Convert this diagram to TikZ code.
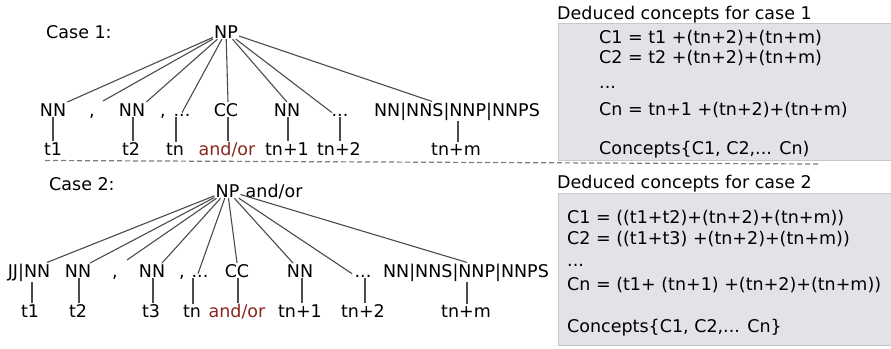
\documentclass[tikz,border=0pt]{standalone}
\usepackage{fontspec}
\setmainfont{DejaVu Sans}
\definecolor{boxfill}{RGB}{225,227,230}
\definecolor{boxline}{RGB}{198,200,203}
\definecolor{andred}{RGB}{135,40,30}
\definecolor{edgecol}{RGB}{75,75,75}
\definecolor{sepcol}{RGB}{125,125,125}
\begin{document}
\begin{tikzpicture}[x=1pt,y=-1pt,
  txt/.style={font=\fontsize{17.5}{21}\selectfont, inner sep=1pt, anchor=base},
  lw/.style={txt, anchor=base west},
  red/.style={txt, text=andred},
  tree/.style={draw=edgecol, line width=1.1pt},
  conbox/.style={fill=boxfill, draw=boxline, line width=1pt},
  sep/.style={draw=sepcol, line width=1.2pt, dash pattern=on 5pt off 3pt}
]
\useasboundingbox (0,0) rectangle (891,348);

% concept boxes
\draw[conbox] (558,23) rectangle (894,160);
\draw[conbox] (558,193) rectangle (894,345);

% separator
\coordinate (sepL) at (45,160.5);
\coordinate (sepR) at (818,164);
\draw[sep] (sepL) -- (sepR);

% ---------- Case 1 ----------
\node[lw] (case1) at (45,38) {Case 1:};
\node[txt] (np1) at (226,38) {NP};

\node[txt] (a1) at (53,116) {NN};
\node[txt] (a2) at (92,116) {,};
\node[txt] (a3) at (132,116) {NN};
\node[txt] (a4) at (163,116) {,};
\node[txt] (a5) at (182,116) {...};
\node[txt] (a6) at (226,116) {CC};
\node[txt] (a7) at (287,116) {NN};
\node[txt] (a8) at (340,116) {...};
\node[txt] (a9) at (457,116) {NN|NNS|NNP|NNPS};

\node[txt] (b1) at (53,155) {t1};
\node[txt] (b2) at (131,155) {t2};
\node[txt] (b3) at (175,155) {tn};
\node[red] (b4) at (227,155) {and/or};
\node[txt] (b5) at (287,155) {tn+1};
\node[txt] (b6) at (339,155) {tn+2};
\node[txt] (b7) at (456,155) {tn+m};

\coordinate (g1) at (103,101);
\draw[tree] (np1) -- (a1.north east);
\draw[tree] (np1) -- (g1);
\draw[tree] (np1) -- (a3.north east);
\draw[tree] (np1) -- (a5.north);
\draw[tree] (np1) -- ([xshift=2pt]a6.north);
\draw[tree] (np1) -- (a7.north);
\draw[tree] (np1) -- ([xshift=-8pt]a8.north);
\draw[tree] (np1) -- ([xshift=-25pt]a9.north);

\draw[tree] (b1.north) -- (b1.north |- a1.south);
\draw[tree] ([xshift=2pt]b2.north) -- ([xshift=2pt]b2.north |- a3.south);
\draw[tree] ([xshift=1pt]b3.north) -- ([xshift=1pt]b3.north |- a5.south);
\draw[tree] ([xshift=1pt]b4.north) -- ([xshift=1pt]b4.north |- a6.south);
\draw[tree] ([xshift=1pt]b5.north) -- ([xshift=1pt]b5.north |- a7.south);
\draw[tree] ([xshift=1pt]b6.north) -- ([xshift=1pt]b6.north |- a8.south);
\draw[tree] ([xshift=2pt]b7.north) -- ([xshift=2pt]b7.north |- a9.south);

% ---------- Case 2 ----------
\node[lw] (case2) at (48,190) {Case 2:};
\node[txt] (np2) at (227.5,197) {NP};
\node[lw] (np2ao) at ([xshift=4pt]np2.base east) {and/or};

\node[txt] (c1) at (29,277) {JJ|NN};
\node[txt] (c2) at (78,277) {NN};
\node[txt] (c3) at (115,277) {,};
\node[txt] (c4) at (152,277) {NN};
\node[txt] (c5) at (182,277) {,};
\node[txt] (c6) at (200,277) {...};
\node[txt] (c7) at (237,277) {CC};
\node[txt] (c8) at (300,277) {NN};
\node[txt] (c9) at (363,277) {...};
\node[txt] (c10) at (466,277) {NN|NNS|NNP|NNPS};

\node[txt] (d1) at (30,317) {t1};
\node[txt] (d2) at (78,317) {t2};
\node[txt] (d3) at (151,317) {t3};
\node[txt] (d4) at (192,317) {tn};
\node[red] (d5) at (237,317) {and/or};
\node[txt] (d6) at (300,317) {tn+1};
\node[txt] (d7) at (363,317) {tn+2};
\node[txt] (d8) at (466,317) {tn+m};

\coordinate (g2) at (127,260);
\draw[tree] (np2) -- ([xshift=18pt]c1.north);
\draw[tree] (np2) -- ([xshift=12pt]c2.north);
\draw[tree] (np2) -- (g2);
\draw[tree] (np2) -- ([xshift=10pt]c4.north);
\draw[tree] (np2) -- ([xshift=-2pt]c6.north);
\draw[tree] (np2) -- (c7.north);
\draw[tree] (np2) -- ([xshift=-7pt]c8.north);
\draw[tree] (np2) -- ([xshift=-11pt]c9.north);
\draw[tree] (np2) -- ([xshift=1pt]c10.north);

\draw[tree] ([xshift=2pt]d1.north) -- ([xshift=2pt]d1.north |- c1.south);
\draw[tree] ([xshift=1pt]d2.north) -- ([xshift=1pt]d2.north |- c2.south);
\draw[tree] ([xshift=2pt]d3.north) -- ([xshift=2pt]d3.north |- c4.south);
\draw[tree] ([xshift=1pt]d4.north) -- ([xshift=1pt]d4.north |- c6.south);
\draw[tree] ([xshift=1pt]d5.north) -- ([xshift=1pt]d5.north |- c7.south);
\draw[tree] ([xshift=2pt]d6.north) -- ([xshift=2pt]d6.north |- c8.south);
\draw[tree] ([xshift=2pt]d7.north) -- ([xshift=2pt]d7.north |- c9.south);
\draw[tree] ([xshift=1pt]d8.north) -- ([xshift=1pt]d8.north |- c10.south);

% ---------- Deduced concepts ----------
\node[lw] (h1) at (556,19) {Deduced concepts for case 1};
\node[lw] (e1) at (598,43.5) {C1 = t1 +(tn+2)+(tn+m)};
\node[lw] (e2) at (598,63.5) {C2 = t2 +(tn+2)+(tn+m)};
\node[lw] (e3) at (598,88) {...};
\node[lw] (e4) at (598,115) {Cn = tn+1 +(tn+2)+(tn+m)};
\node[lw] (e5) at (598,154) {Concepts\{C1, C2,... Cn)};

\node[lw] (h2) at (556,188) {Deduced concepts for case 2};
\node[lw] (f1) at (566,223) {C1 = ((t1+t2)+(tn+2)+(tn+m))};
\node[lw] (f2) at (566,244) {C2 = ((t1+t3) +(tn+2)+(tn+m))};
\node[lw] (f3) at (566,266) {...};
\node[lw] (f4) at (566,290) {Cn = (t1+ (tn+1) +(tn+2)+(tn+m))};
\node[lw] (f5) at (566,332) {Concepts\{C1, C2,... Cn\}};
\end{tikzpicture}
\end{document}
